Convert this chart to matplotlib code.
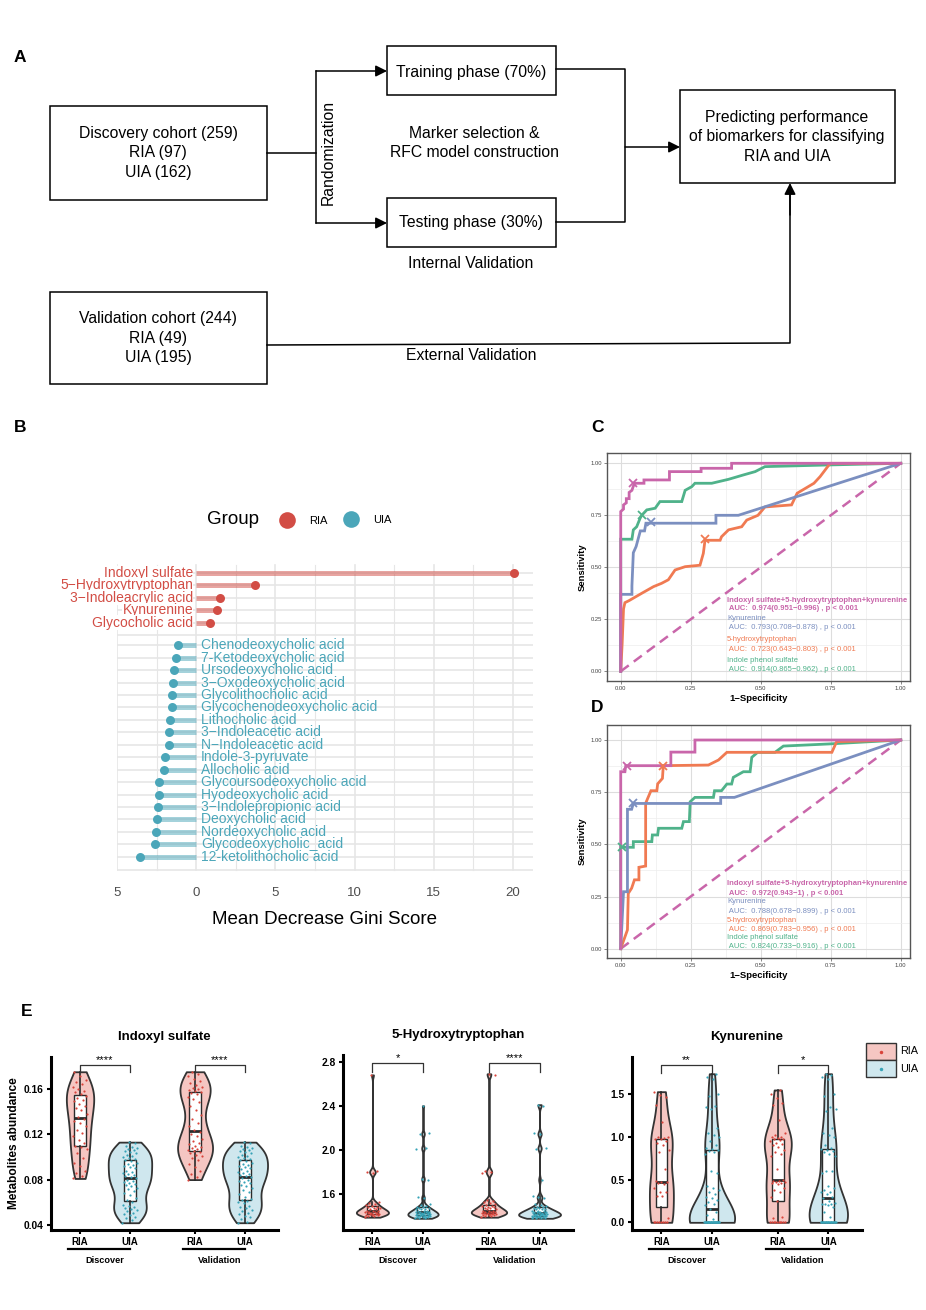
import numpy as np
import matplotlib
matplotlib.use("Agg")
import matplotlib.pyplot as plt
from matplotlib.patches import Rectangle
from matplotlib.transforms import blended_transform_factory

plt.rcParams['font.family'] = ['Liberation Sans', 'DejaVu Sans']

# ---------------- data: panel B (Mean Decrease Gini) ----------------
ria_names = ["Indoxyl sulfate", "5\u2212Hydroxytryptophan", "3\u2212Indoleacrylic acid",
             "Kynurenine", "Glycocholic acid"]
ria_gini = [20.08, 3.74, 1.52, 1.32, 0.86]
uia_names = ["Chenodeoxycholic acid", "7-Ketodeoxycholic acid", "Ursodeoxycholic acid",
             "3\u2212Oxodeoxycholic acid", "Glycolithocholic acid", "Glycochenodeoxycholic acid",
             "Lithocholic acid", "3\u2212Indoleacetic acid", "N\u2212Indoleacetic acid",
             "Indole-3-pyruvate", "Allocholic acid", "Glycoursodeoxycholic acid",
             "Hyodeoxycholic acid", "3\u2212Indolepropionic acid", "Deoxycholic acid",
             "Nordeoxycholic acid", "Glycodeoxycholic_acid", "12-ketolithocholic acid"]
uia_gini = [-1.15, -1.27, -1.42, -1.44, -1.50, -1.54, -1.63, -1.71, -1.73,
            -2.00, -2.03, -2.36, -2.36, -2.40, -2.46, -2.55, -2.59, -3.55]

# ---------------- data: panel C (discovery ROC) ----------------
c_combo_fpr = [0, 0, 0.01, 0.01, 0.02, 0.02, 0.03, 0.03, 0.04, 0.045, 0.05, 0.083, 0.083, 0.174, 0.174, 0.287, 0.287, 0.396, 0.396, 1.0]
c_combo_tpr = [0, 0.768, 0.78, 0.80, 0.81, 0.83, 0.83, 0.86, 0.87, 0.89, 0.904, 0.904, 0.92, 0.92, 0.96, 0.96, 0.976, 0.976, 1.0, 1.0]
c_kyn_fpr = [0, 0, 0.04, 0.04, 0.045, 0.055, 0.07, 0.085, 0.09, 0.34, 0.34, 0.42, 1.0]
c_kyn_tpr = [0, 0.37, 0.37, 0.41, 0.57, 0.60, 0.675, 0.675, 0.712, 0.712, 0.75, 0.75, 1.0]
c_ht_fpr = [0, 0.005, 0.01, 0.015, 0.03, 0.075, 0.117, 0.146, 0.17, 0.194, 0.23, 0.283, 0.295, 0.301, 0.355, 0.36, 0.385,
            0.432, 0.45, 0.49, 0.515, 0.61, 0.63, 0.67, 0.69, 0.712, 0.73, 0.748, 1.0]
c_ht_tpr = [0, 0.13, 0.30, 0.33, 0.34, 0.375, 0.407, 0.423, 0.44, 0.487, 0.503, 0.51, 0.567, 0.63, 0.63, 0.647, 0.68,
            0.695, 0.727, 0.75, 0.79, 0.80, 0.856, 0.888, 0.904, 0.936, 0.968, 1.0, 1.0]
c_ips_fpr = [0, 0, 0.04, 0.045, 0.057, 0.069, 0.075, 0.093, 0.123, 0.14, 0.218, 0.23, 0.254, 0.265, 0.325, 0.385,
             0.438, 0.48, 0.515, 0.742, 1.0]
c_ips_tpr = [0, 0.635, 0.635, 0.68, 0.695, 0.735, 0.75, 0.776, 0.784, 0.816, 0.816, 0.87, 0.888, 0.904, 0.904, 0.923,
             0.944, 0.96, 0.984, 0.992, 1.0]
c_cut_fpr = [0.045, 0.107, 0.301, 0.075]
c_cut_tpr = [0.904, 0.716, 0.635, 0.75]
c_auc = ["AUC:  0.974(0.951\u22120.996) , p < 0.001", "AUC:  0.793(0.708\u22120.878) , p < 0.001",
         "AUC:  0.723(0.643\u22120.803) , p < 0.001", "AUC:  0.914(0.865\u22120.962) , p < 0.001"]

# ---------------- data: panel D (validation ROC) ----------------
d_combo_fpr = [0, 0, 0.015, 0.018, 0.179, 0.179, 0.265, 0.265, 1.0]
d_combo_tpr = [0, 0.848, 0.848, 0.877, 0.877, 0.942, 0.942, 1.0, 1.0]
d_kyn_fpr = [0, 0.01, 0.024, 0.024, 0.039, 0.045, 0.357, 0.357, 0.406, 1.0]
d_kyn_tpr = [0, 0.273, 0.273, 0.668, 0.668, 0.696, 0.696, 0.725, 0.725, 1.0]
d_ht_fpr = [0, 0.024, 0.027, 0.039, 0.049, 0.065, 0.065, 0.089, 0.089, 0.108, 0.129, 0.132, 0.149, 0.152, 0.313,
            0.349, 0.379, 0.754, 0.771, 1.0]
d_ht_tpr = [0, 0.09, 0.265, 0.29, 0.33, 0.33, 0.39, 0.396, 0.697, 0.757, 0.757, 0.79, 0.816, 0.877, 0.88,
            0.904, 0.941, 0.941, 0.992, 1.0]
d_ips_fpr = [0, 0, 0.045, 0.045, 0.111, 0.113, 0.132, 0.135, 0.218, 0.224, 0.245, 0.248, 0.265, 0.331, 0.335, 0.36,
             0.379, 0.396, 0.402, 0.438, 0.462, 0.468, 0.489, 0.551, 0.581, 0.742, 1.0]
d_ips_tpr = [0, 0.486, 0.486, 0.513, 0.513, 0.545, 0.545, 0.577, 0.577, 0.609, 0.609, 0.704, 0.725, 0.725, 0.757, 0.757,
             0.789, 0.789, 0.821, 0.848, 0.848, 0.917, 0.941, 0.941, 0.971, 0.981, 1.0]
d_cut_fpr = [0.021, 0.045, 0.152, 0.004]
d_cut_tpr = [0.877, 0.696, 0.877, 0.486]
d_auc = ["AUC:  0.972(0.943\u22121) , p < 0.001", "AUC:  0.788(0.678\u22120.899) , p < 0.001",
         "AUC:  0.869(0.783\u22120.956) , p < 0.001", "AUC:  0.824(0.733\u22120.916) , p < 0.001"]
roc_names = ["Indoxyl sulfate+5-hydroxytryptophan+kynurenine", "Kynurenine",
             "5-hydroxytryptophan", "Indole phenol sulfate"]

# ---------------- data: panel E (metabolite abundance) ----------------
ind_disc_ria = [0.081, 0.083, 0.086, 0.088, 0.092, 0.095, 0.099, 0.103, 0.107, 0.109, 0.110, 0.112, 0.115, 0.118,
                0.121, 0.124, 0.127, 0.130, 0.132, 0.133, 0.135, 0.138, 0.141, 0.143, 0.145, 0.147, 0.149, 0.150,
                0.152, 0.154, 0.155, 0.157, 0.158, 0.160, 0.162, 0.164, 0.166, 0.168, 0.171, 0.175]
ind_disc_uia = [0.042, 0.044, 0.046, 0.047, 0.049, 0.050, 0.051, 0.052, 0.053, 0.054, 0.055, 0.056, 0.057, 0.058,
                0.060, 0.062, 0.064, 0.066, 0.068, 0.070, 0.072, 0.073, 0.074, 0.075, 0.076, 0.077, 0.078, 0.079,
                0.080, 0.081, 0.082, 0.083, 0.084, 0.085, 0.086, 0.087, 0.088, 0.090, 0.091, 0.092, 0.093, 0.094,
                0.095, 0.096, 0.097, 0.098, 0.099, 0.100, 0.101, 0.102, 0.103, 0.104, 0.105, 0.106, 0.107, 0.108,
                0.109, 0.110, 0.112, 0.113]
ind_val_ria = [0.080, 0.082, 0.085, 0.088, 0.091, 0.094, 0.097, 0.099, 0.101, 0.102, 0.103, 0.104, 0.105, 0.106,
               0.107, 0.108, 0.109, 0.110, 0.111, 0.112, 0.114, 0.116, 0.118, 0.120, 0.122, 0.124, 0.127, 0.130,
               0.133, 0.137, 0.141, 0.145, 0.148, 0.151, 0.153, 0.155, 0.156, 0.157, 0.158, 0.159, 0.160, 0.161,
               0.162, 0.163, 0.165, 0.167, 0.169, 0.171, 0.173, 0.175]
ind_val_uia = [0.042, 0.043, 0.045, 0.047, 0.048, 0.050, 0.051, 0.052, 0.053, 0.055, 0.056, 0.057, 0.059, 0.060,
               0.061, 0.062, 0.063, 0.065, 0.067, 0.069, 0.071, 0.073, 0.074, 0.075, 0.077, 0.078, 0.079, 0.080,
               0.081, 0.082, 0.083, 0.084, 0.085, 0.086, 0.087, 0.088, 0.089, 0.090, 0.091, 0.092, 0.093, 0.094,
               0.095, 0.096, 0.097, 0.098, 0.099, 0.100, 0.101, 0.102, 0.103, 0.104, 0.105, 0.106, 0.107, 0.108,
               0.109, 0.110, 0.112, 0.113]

ht_disc_ria = [1.39, 1.40, 1.40, 1.41, 1.41, 1.41, 1.42, 1.42, 1.42, 1.42, 1.43, 1.43, 1.43, 1.44, 1.44, 1.44,
               1.45, 1.45, 1.45, 1.46, 1.46, 1.47, 1.47, 1.48, 1.48, 1.49, 1.50, 1.51, 1.52, 1.53,
               1.79, 1.80, 1.81, 2.68]
ht_disc_uia = [1.38, 1.38, 1.38, 1.39, 1.39, 1.39, 1.39, 1.40, 1.40, 1.40, 1.40, 1.40, 1.41, 1.41, 1.41, 1.41,
               1.41, 1.42, 1.42, 1.42, 1.42, 1.42, 1.43, 1.43, 1.43, 1.43, 1.44, 1.44, 1.44, 1.44, 1.45, 1.45,
               1.45, 1.46, 1.46, 1.46, 1.47, 1.47, 1.48, 1.48, 1.49, 1.50, 1.51, 1.56, 1.57, 1.73, 1.74,
               2.01, 2.02, 2.14, 2.15, 2.40]
ht_val_ria = [1.39, 1.40, 1.40, 1.41, 1.41, 1.41, 1.42, 1.42, 1.42, 1.42, 1.43, 1.43, 1.43, 1.43, 1.44, 1.44,
              1.44, 1.45, 1.45, 1.45, 1.46, 1.46, 1.47, 1.47, 1.48, 1.48, 1.49, 1.49, 1.50, 1.51, 1.52, 1.53,
              1.54, 1.55, 1.79, 1.80, 1.81, 2.68, 2.69]
ht_val_uia = [1.38, 1.38, 1.38, 1.38, 1.39, 1.39, 1.39, 1.39, 1.40, 1.40, 1.40, 1.40, 1.40, 1.40, 1.41, 1.41,
              1.41, 1.41, 1.41, 1.42, 1.42, 1.42, 1.42, 1.42, 1.43, 1.43, 1.43, 1.43, 1.44, 1.44, 1.44, 1.44,
              1.45, 1.45, 1.45, 1.46, 1.46, 1.46, 1.47, 1.47, 1.48, 1.48, 1.49, 1.50, 1.51, 1.56, 1.57, 1.58,
              1.73, 2.01, 2.02, 2.14, 2.15, 2.40, 2.41]

kyn_disc_ria = [0, 0, 0, 0, 0, 0, 0, 0, 0.05, 0.31, 0.31, 0.36, 0.36, 0.40, 0.45, 0.46, 0.47, 0.47, 0.48, 0.62,
                0.82, 0.85, 0.90, 0.93, 0.95, 0.97, 0.98, 0.99, 1.00, 1.00, 1.17, 1.37, 1.47, 1.49, 1.53]
kyn_disc_uia = [0] * 30 + [0.04, 0.08, 0.12, 0.16, 0.20, 0.22, 0.24, 0.26, 0.28, 0.30, 0.33, 0.36, 0.38, 0.40,
                           0.42, 0.58, 0.60, 0.80, 0.82, 0.84, 0.85, 0.86, 0.87, 0.90, 0.95, 1.00, 1.02, 1.05,
                           1.10, 1.33, 1.35, 1.36, 1.48, 1.50, 1.68, 1.70, 1.74]
kyn_val_ria = [0] * 10 + [0.05, 0.06, 0.25, 0.30, 0.36, 0.38, 0.40, 0.45, 0.46, 0.46, 0.47, 0.47, 0.48, 0.48,
                          0.49, 0.62, 0.78, 0.80, 0.82, 0.85, 0.88, 0.90, 0.92, 0.93, 0.95, 0.96, 0.97, 0.98,
                          0.99, 1.00, 1.00, 1.02, 1.05, 1.20, 1.37, 1.40, 1.45, 1.50, 1.55]
kyn_val_uia = [0] * 22 + [0.06, 0.12, 0.18, 0.20, 0.21, 0.22, 0.22, 0.23, 0.25, 0.28, 0.30, 0.33, 0.35, 0.36,
                          0.38, 0.40, 0.42, 0.58, 0.60, 0.60, 0.78, 0.80, 0.82, 0.84, 0.85, 0.86, 0.87, 0.90,
                          1.00, 1.02, 1.05, 1.10, 1.30, 1.33, 1.35, 1.48, 1.50, 1.68, 1.70, 1.72, 1.74]

RED = "#D24D45"
TEAL = "#4BA6B9"
ROC_COLS = ["#C966AA", "#7B8FC0", "#F07A52", "#4FB28A"]
RIA_FILL, UIA_FILL = "#F5C6C2", "#CFE7EE"
RIA_PT, UIA_PT = "#D9443B", "#36A3B7"

fig = plt.figure(figsize=(9.26, 13.10), dpi=100)
H = 1310.0


def px_axes(left, top, right, bottom):
    return fig.add_axes([left / 926.0, (H - bottom) / H, (right - left) / 926.0, (bottom - top) / H])


# ================= panel B =================
axb = px_axes(117, 562, 533, 874)
top_y = np.arange(len(ria_names))
bot_y = 5.8 + np.arange(len(uia_names))
axb.set_xlim(-4.78, 21.27)
axb.set_ylim(24.18, -0.88)
grid_c = "#E6E6E6"
for gx in [-5, 0, 5, 10, 15, 20]:
    axb.plot([gx, gx], [-0.65, 23.85], color=grid_c, lw=1.2, zorder=0)
for gx in [-2.5, 2.5, 7.5, 12.5, 17.5]:
    axb.plot([gx, gx], [-0.65, 23.85], color=grid_c, lw=0.8, zorder=0)
for gy in list(top_y) + [5.0] + list(bot_y) + [23.85]:
    axb.axhline(gy, color=grid_c, lw=1.2, zorder=0)
axb.hlines(top_y, 0, ria_gini, color=RED, alpha=0.5, lw=3.6, zorder=2)
axb.scatter(ria_gini, top_y, s=42, color=RED, zorder=3, lw=0)
axb.hlines(bot_y, uia_gini, 0, color=TEAL, alpha=0.5, lw=3.6, zorder=2)
axb.scatter(uia_gini, bot_y, s=42, color=TEAL, zorder=3, lw=0)
for n, y in zip(ria_names, top_y):
    axb.text(-0.2, y, n, color=RED, fontsize=10, ha="right", va="center", zorder=1,
             bbox=dict(facecolor="white", edgecolor="none", pad=0.3), clip_on=False)
for n, y in zip(uia_names, bot_y):
    axb.text(0.3, y, n, color=TEAL, fontsize=10, ha="left", va="center", zorder=4)
axb.set_xticks([-5, 0, 5, 10, 15, 20])
axb.set_xticklabels(["5", "0", "5", "10", "15", "20"], color="#4D4D4D", fontsize=9.5)
axb.tick_params(axis="x", length=0, pad=9)
axb.set_yticks([])
for s in axb.spines.values():
    s.set_visible(False)
axb.set_xlabel("Mean Decrease Gini Score", fontsize=13.5, labelpad=9)


# ================= panels C, D =================
def roc_panel(ax, curves, cuts):
    ax.set_xlim(-0.049, 1.033)
    ticks = [0, 0.25, 0.5, 0.75, 1.0]
    ax.set_xticks(ticks)
    ax.set_yticks(ticks)
    ax.set_xticks(np.arange(0.125, 1.0, 0.25), minor=True)
    ax.set_yticks(np.arange(0.125, 1.0, 0.25), minor=True)
    ax.set_xticklabels(["0.00", "0.25", "0.50", "0.75", "1.00"])
    ax.set_yticklabels(["0.00", "0.25", "0.50", "0.75", "1.00"])
    ax.grid(True, which="major", color="#DDDDDD", lw=0.8)
    ax.grid(True, which="minor", color="#EDEDED", lw=0.5)
    ax.set_axisbelow(True)
    ax.tick_params(labelsize=4.2, length=2, width=0.5, color="#555555", pad=1.5, labelcolor="#444444")
    ax.tick_params(which="minor", length=0)
    for s in ax.spines.values():
        s.set_color("#555555")
        s.set_linewidth(1.0)
    ax.plot([0, 1], [0, 1], color=ROC_COLS[0], lw=1.8, ls=(0, (4, 2.5)), zorder=2)
    for (fx, ty), col in zip(reversed(curves), reversed(ROC_COLS)):
        ax.plot(fx, ty, color=col, lw=2.0, solid_joinstyle="miter", zorder=3)
    for x, y, col in zip(cuts[0], cuts[1], ROC_COLS):
        ax.plot(x, y, marker="x", ms=6, mew=1.3, color=col, zorder=4)
    ax.set_xlabel("1\u2212Specificity", fontsize=6.8, fontweight="bold", labelpad=2)
    ax.set_ylabel("Sensitivity", fontsize=6.8, fontweight="bold", labelpad=3)


def roc_text(ax, ys, aucs):
    for i in range(4):
        w = "bold" if i == 0 else "normal"
        ax.text(0.38, ys[2 * i], roc_names[i], color=ROC_COLS[i], fontsize=5.5, fontweight=w, va="center")
        ax.text(0.38, ys[2 * i + 1], " " + aucs[i], color=ROC_COLS[i], fontsize=5.5, fontweight=w, va="center")


axc = px_axes(607, 453, 910, 681)
axc.set_ylim(-0.0466, 1.0495)
roc_panel(axc, [(c_combo_fpr, c_combo_tpr), (c_kyn_fpr, c_kyn_tpr), (c_ht_fpr, c_ht_tpr), (c_ips_fpr, c_ips_tpr)],
          (c_cut_fpr, c_cut_tpr))
roc_text(axc, [0.34, 0.30, 0.255, 0.21, 0.154, 0.107, 0.054, 0.011], c_auc)

axd = px_axes(607, 725, 910, 958)
axd.set_ylim(-0.0446, 1.0719)
roc_panel(axd, [(d_combo_fpr, d_combo_tpr), (d_kyn_fpr, d_kyn_tpr), (d_ht_fpr, d_ht_tpr), (d_ips_fpr, d_ips_tpr)],
          (d_cut_fpr, d_cut_tpr))
roc_text(axd, [0.31, 0.265, 0.224, 0.18, 0.137, 0.094, 0.053, 0.01], d_auc)


# ================= panel E =================
def nrd0(v):
    v = np.asarray(v, float)
    sd = v.std(ddof=1)
    iqr = np.subtract(*np.percentile(v, [75, 25]))
    lo = min(sd, iqr / 1.34) if iqr > 0 else sd
    return 0.9 * lo * len(v) ** -0.2


def kde(v, ys):
    v = np.asarray(v, float)
    bw = nrd0(v)
    return np.exp(-0.5 * ((ys[:, None] - v[None, :]) / bw) ** 2).sum(1) / (len(v) * bw * np.sqrt(2 * np.pi))


def violin_panel(ax, groups, title, ylim, yticks, yfmt, sig, sig_y, widths):
    pos = [1 - 0.217, 1 + 0.217, 2 - 0.217, 2 + 0.217]
    fills = [RIA_FILL, UIA_FILL, RIA_FILL, UIA_FILL]
    pts = [RIA_PT, UIA_PT, RIA_PT, UIA_PT]
    for g, x, fc, pc, w in zip(groups, pos, fills, pts, widths):
        ys = np.linspace(min(g), max(g), 300)
        d = kde(g, ys)
        hw = d / d.max() * w
        ax.fill_betweenx(ys, x - hw, x + hw, facecolor=fc, edgecolor="#333333", lw=1.3, zorder=1)
        ax.boxplot([g], positions=[x], widths=0.1, showfliers=False, patch_artist=True, manage_ticks=False,
                   boxprops=dict(facecolor="white", edgecolor="#2b2b2b", lw=1.0),
                   medianprops=dict(color="#2b2b2b", lw=2.0),
                   whiskerprops=dict(color="#2b2b2b", lw=1.2), capprops=dict(lw=0), zorder=2)
        n = len(g)
        off = ((np.arange(n) * 0.6180339) % 1.0 - 0.5) * 0.13
        ax.scatter(x + off, g, s=2.5, color=pc, lw=0, zorder=3)
    ax.set_xlim(0.528, 2.504)
    ax.set_ylim(*ylim)
    ax.set_yticks(yticks)
    ax.set_yticklabels([yfmt.format(t) for t in yticks])
    ax.set_xticks(pos)
    ax.set_xticklabels(["RIA", "UIA", "RIA", "UIA"])
    for lab in ax.get_xticklabels() + ax.get_yticklabels():
        lab.set_fontweight("bold")
    ax.tick_params(axis="y", labelsize=7.4, length=3, width=1.5, pad=2)
    ax.tick_params(axis="x", labelsize=7, length=3, width=1.5, pad=2)
    for s in ["top", "right"]:
        ax.spines[s].set_visible(False)
    for s in ["left", "bottom"]:
        ax.spines[s].set_linewidth(2.2)
    ax.set_title(title, fontsize=9.5, fontweight="bold", pad=12)
    tr = blended_transform_factory(ax.transData, ax.transAxes)
    for k, name in enumerate(["Discover", "Validation"]):
        c = k + 1
        ax.plot([c - 0.32, c + 0.22], [-0.11, -0.11], color="black", lw=1.6, transform=tr, clip_on=False)
        ax.text(c, -0.175, name, transform=tr, ha="center", va="center", fontsize=6.6, fontweight="bold")
        y0, y1 = sig_y
        ax.plot([pos[2 * k], pos[2 * k], pos[2 * k + 1], pos[2 * k + 1]], [y1, y0, y0, y1],
                color="#333333", lw=0.9, clip_on=False, zorder=4)
        ax.text(c, y0, sig[k], ha="center", va="bottom", fontsize=8, clip_on=False)


ax1 = px_axes(50.7, 1057, 278, 1230)
violin_panel(ax1, [ind_disc_ria, ind_disc_uia, ind_val_ria, ind_val_uia], "Indoxyl sulfate",
             (0.0356, 0.188), [0.04, 0.08, 0.12, 0.16], "{:.2f}", ["****", "****"], (0.1806, 0.1744),
             [0.119, 0.189, 0.152, 0.196])
ax1.set_ylabel("Metabolites abundance", fontsize=8.6, fontweight="bold", labelpad=3)

ax2 = px_axes(342.7, 1055, 573, 1230)
violin_panel(ax2, [ht_disc_ria, ht_disc_uia, ht_val_ria, ht_val_uia], "5-Hydroxytryptophan",
             (1.274, 2.86), [1.6, 2.0, 2.4, 2.8], "{:.1f}", ["*", "****"], (2.788, 2.71),
             [0.138, 0.13, 0.152, 0.18])

ax3 = px_axes(631.7, 1057, 861.7, 1230)
violin_panel(ax3, [kyn_disc_ria, kyn_disc_uia, kyn_val_ria, kyn_val_uia], "Kynurenine",
             (-0.09, 1.936), [0.0, 0.5, 1.0, 1.5], "{:.1f}", ["**", "*"], (1.84, 1.75),
             [0.103, 0.195, 0.116, 0.165])

# ================= overlay: flowchart, letters, legends =================
ov = fig.add_axes([0, 0, 1, 1])
ov.set_xlim(0, 926)
ov.set_ylim(H, 0)
ov.axis("off")
ov.patch.set_alpha(0)

for lt, x, y in [("A", 20, 57), ("B", 20, 428), ("C", 597, 428), ("D", 597, 708), ("E", 27, 1012)]:
    ov.text(x, y, lt, fontsize=12.5, fontweight="bold", ha="center", va="center")

boxes = [(50, 106, 267, 200), (387, 46, 556, 95), (387, 198, 556, 247), (680, 90, 895, 183), (50, 292, 267, 384)]
for l, t, r, b in boxes:
    ov.add_patch(Rectangle((l, t), r - l, b - t, facecolor="white", edgecolor="black", lw=1.1))

fs = 11.3
ov.text(158, 153, "Discovery cohort (259)\nRIA (97)\nUIA (162)", ha="center", va="center", fontsize=fs, linespacing=1.35)
ov.text(471, 72, "Training phase (70%)", ha="center", va="center", fontsize=fs)
ov.text(471, 223, "Testing phase (30%)", ha="center", va="center", fontsize=fs)
ov.text(474, 143, "Marker selection &\nRFC model construction", ha="center", va="center", fontsize=fs, linespacing=1.35)
ov.text(787, 137, "Predicting performance\nof biomarkers for classifying\nRIA and UIA", ha="center", va="center",
        fontsize=fs, linespacing=1.35)
ov.text(158, 338, "Validation cohort (244)\nRIA (49)\nUIA (195)", ha="center", va="center", fontsize=fs, linespacing=1.35)
ov.text(471, 263, "Internal Validation", ha="center", va="center", fontsize=fs)
ov.text(471, 355, "External Validation", ha="center", va="center", fontsize=fs)
ov.text(328, 152, "Randomization", ha="center", va="center", fontsize=fs, rotation=90)

lk = dict(color="black", lw=1.1)
ov.plot([267, 316], [153, 153], **lk)
ov.plot([316, 316], [71, 223], **lk)
ov.plot([556, 625, 625, 556], [69, 69, 222, 222], **lk)
ov.plot([267, 790, 790], [345, 343, 195], **lk)
arw = dict(arrowstyle="-|>", mutation_scale=17, lw=1.1, color="black", shrinkA=0, shrinkB=0)
ov.annotate("", xy=(387, 71), xytext=(316, 71), arrowprops=arw)
ov.annotate("", xy=(387, 223), xytext=(316, 223), arrowprops=arw)
ov.annotate("", xy=(680, 147), xytext=(625, 147), arrowprops=arw)
ov.annotate("", xy=(790, 183), xytext=(790, 215), arrowprops=arw)

# legend of panel B
ov.text(233, 520, "Group", fontsize=13.5, ha="center", va="center")
ov.plot([287], [520], marker="o", ms=12, color=RED, mew=0)
ov.text(318, 521, "RIA", fontsize=8, ha="center", va="center")
ov.plot([351], [519], marker="o", ms=12, color=TEAL, mew=0)
ov.text(382, 520, "UIA", fontsize=8, ha="center", va="center")

# legend of panel E
for k, (lab, fc, pc) in enumerate([("RIA", RIA_FILL, RIA_PT), ("UIA", UIA_FILL, UIA_PT)]):
    y0 = 1043 + k * 17
    ov.add_patch(Rectangle((866, y0), 30, 17, facecolor=fc, edgecolor="#333333", lw=1.0))
    ov.plot([881], [y0 + 8.5], marker="o", ms=2.5, color=pc, mew=0)
    ov.text(900, y0 + 8.5, lab, fontsize=7.8, ha="left", va="center")

fig.savefig("out.png", dpi=100)
